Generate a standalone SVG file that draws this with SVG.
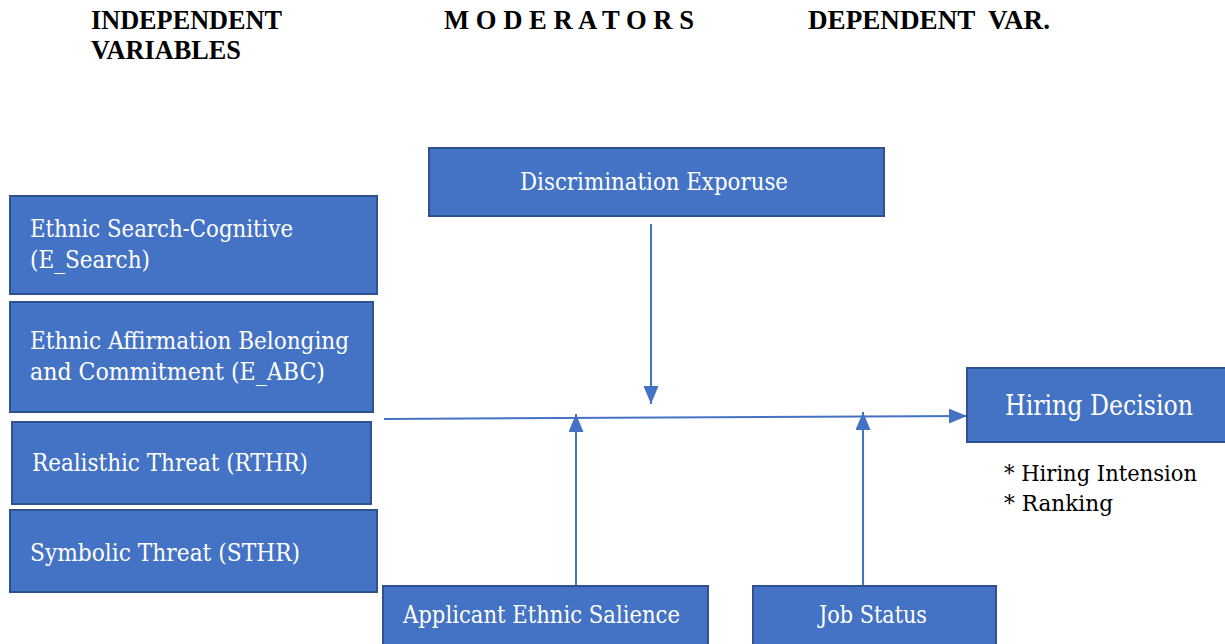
<svg xmlns="http://www.w3.org/2000/svg" width="1225" height="644" viewBox="0 0 1225 644">
<style>
.box{fill:#4472C4;stroke:#2F528F;stroke-width:2}
.bt{font-family:"DejaVu Serif","Liberation Serif",serif;font-size:24px;fill:#ffffff}
.hd{font-family:"Liberation Serif","DejaVu Serif",serif;font-size:28px;font-weight:bold;fill:#000}
.nt{font-family:"DejaVu Serif","Liberation Serif",serif;font-size:23px;fill:#000}
.ln{stroke:#4472C4;stroke-width:2;fill:none}
</style>
<defs>
<marker id="ah" viewBox="0 0 12 10" refX="12" refY="5" markerWidth="9" markerHeight="7.5" orient="auto" markerUnits="strokeWidth">
<path d="M0,0 L12,5 L0,10 z" fill="#4472C4"/>
</marker>
</defs>
<rect width="1225" height="644" fill="#ffffff"/>
<g id="headers">
<text class="hd" x="91" y="29" textLength="191" lengthAdjust="spacingAndGlyphs">INDEPENDENT</text>
<text class="hd" x="91" y="59" textLength="150" lengthAdjust="spacingAndGlyphs">VARIABLES</text>
<text class="hd" x="444" y="29" textLength="250" lengthAdjust="spacingAndGlyphs">M O D E R A T O R S</text>
<text class="hd" x="808" y="29" textLength="242" lengthAdjust="spacingAndGlyphs" xml:space="preserve">DEPENDENT  VAR.</text>
</g>
<g id="connectors">
<line class="ln" x1="384" y1="419" x2="967" y2="416" marker-end="url(#ah)"/>
<line class="ln" x1="651" y1="224" x2="651" y2="404" marker-end="url(#ah)"/>
<line class="ln" x1="576" y1="586" x2="576" y2="414" marker-end="url(#ah)"/>
<line class="ln" x1="863" y1="586" x2="863" y2="412" marker-end="url(#ah)"/>
</g>
<g id="discrimination">
<rect class="box" x="429" y="148" width="455" height="68"/>
<text class="bt" x="520" y="190" textLength="268" lengthAdjust="spacingAndGlyphs">Discrimination Exporuse</text>
</g>
<g id="e_search">
<rect class="box" x="10" y="196" width="367" height="98"/>
<text class="bt" x="30" y="237" textLength="263" lengthAdjust="spacingAndGlyphs">Ethnic Search-Cognitive</text>
<text class="bt" x="30" y="268" textLength="120" lengthAdjust="spacingAndGlyphs">(E_Search)</text>
</g>
<g id="e_abc">
<rect class="box" x="10" y="302" width="363" height="110"/>
<text class="bt" x="30" y="349" textLength="319" lengthAdjust="spacingAndGlyphs">Ethnic Affirmation Belonging</text>
<text class="bt" x="30" y="380" textLength="295" lengthAdjust="spacingAndGlyphs">and Commitment (E_ABC)</text>
</g>
<g id="rthr">
<rect class="box" x="12" y="422" width="359" height="82"/>
<text class="bt" x="32" y="471" textLength="276" lengthAdjust="spacingAndGlyphs">Realisthic Threat (RTHR)</text>
</g>
<g id="sthr">
<rect class="box" x="10" y="510" width="367" height="82"/>
<text class="bt" x="30" y="561" textLength="270" lengthAdjust="spacingAndGlyphs">Symbolic Threat (STHR)</text>
</g>
<g id="hiring">
<rect class="box" x="967" y="368" width="268" height="74"/>
<text class="bt" x="1005" y="415" style="font-size:27px" textLength="188" lengthAdjust="spacingAndGlyphs">Hiring Decision</text>
</g>
<g id="hiring_notes">
<text class="nt" x="1004" y="481" textLength="193" lengthAdjust="spacingAndGlyphs">* Hiring Intension</text>
<text class="nt" x="1004" y="511" textLength="109" lengthAdjust="spacingAndGlyphs">* Ranking</text>
</g>
<g id="applicant">
<rect class="box" x="383" y="586" width="325" height="70"/>
<text class="bt" x="403" y="623" textLength="277" lengthAdjust="spacingAndGlyphs">Applicant Ethnic Salience</text>
</g>
<g id="job_status">
<rect class="box" x="753" y="586" width="243" height="70"/>
<text class="bt" x="819" y="623" textLength="108" lengthAdjust="spacingAndGlyphs">Job Status</text>
</g>
</svg>
